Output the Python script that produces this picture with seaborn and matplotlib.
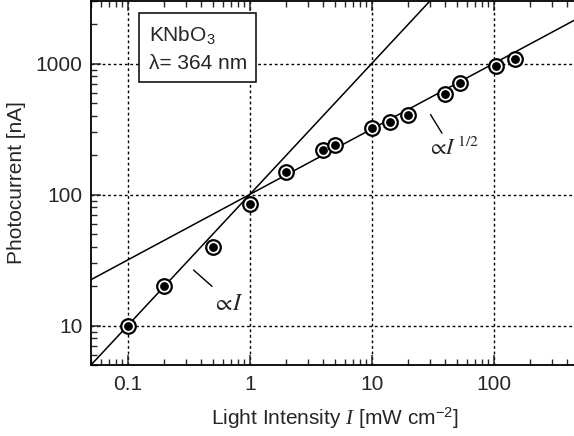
import numpy as np
import pandas as pd
import matplotlib
matplotlib.use("Agg")
import matplotlib.pyplot as plt
import seaborn as sns

sns.set_theme(style="ticks")
plt.rcParams['font.family'] = ['Liberation Sans', 'DejaVu Sans']
plt.rcParams['mathtext.fontset'] = 'custom'
plt.rcParams['mathtext.rm'] = 'Liberation Sans'
plt.rcParams['mathtext.it'] = 'Liberation Serif:italic'
plt.rcParams['mathtext.bf'] = 'Liberation Sans:bold'

# measured points
intensity = [0.1, 0.2, 0.5, 1.0, 2.0, 4.0, 5.0, 10, 14, 20, 40, 53, 105, 150]
current = [10, 20, 40, 85, 148, 220, 240, 320, 356, 408, 585, 715, 950, 1090]

# guide lines
lin_x = [0.05, 500]
lin_y = [5, 50000]
sqrt_x = [0.05, 500]
sqrt_y = [22.4, 2236]

df = pd.DataFrame({"I": intensity, "pc": current})

fig = plt.figure(figsize=(5.74, 4.36), dpi=100)
ax = fig.add_axes([91 / 574, 71 / 436, 488 / 574, 364 / 436])

# fit lines
sns.lineplot(x=lin_x, y=lin_y, color="black", linewidth=1.1, ax=ax)
sns.lineplot(x=sqrt_x, y=sqrt_y, color="black", linewidth=1.1, ax=ax)

# ring + dot markers
sns.scatterplot(data=df, x="I", y="pc", s=110, color="white",
                edgecolor="black", linewidth=1.6, zorder=3, ax=ax)
sns.scatterplot(data=df, x="I", y="pc", s=40, color="black",
                edgecolor="black", linewidth=0, zorder=4, ax=ax)

ax.set_xscale("log")
ax.set_yscale("log")
ax.set_xlim(0.05, 500)
ax.set_ylim(5, 3000)

ax.set_xticks([0.1, 1, 10, 100])
ax.set_xticklabels(["0.1", "1", "10", "100"])
ax.set_yticks([10, 100, 1000])
ax.set_yticklabels(["10", "100", "1000"])

ax.grid(True, which="major", color="black", linestyle=(0, (2, 2)), linewidth=1.0)
ax.tick_params(which="major", direction="in", length=7, width=1.1,
               top=True, labelsize=15, pad=7)
ax.tick_params(axis="y", which="major", pad=6)
ax.tick_params(which="minor", direction="in", length=4, width=1.0, top=True)
for s in ax.spines.values():
    s.set_linewidth(1.3)
    s.set_color("black")

ax.set_xlabel("Light Intensity $I$ [mW cm$^{-2}$]", fontsize=15, labelpad=9)
ax.set_ylabel("Photocurrent [nA]", fontsize=15, labelpad=7)

ax.text(0.118, 0.938, "KNbO$_3$\nλ= 364 nm", transform=ax.transAxes,
        fontsize=15, va="top", ha="left", linespacing=1.55,
        bbox=dict(boxstyle="square,pad=0.45", facecolor="white",
                  edgecolor="black", linewidth=1.1))

ax.annotate("", xy=(0.51, 19.3), xytext=(0.333, 27.4),
            arrowprops=dict(arrowstyle="-", color="black", lw=1.0))
ax.text(0.49, 14.5, r"$\propto\! I$", fontsize=17, ha="left", va="center",
        math_fontfamily="stix")

ax.annotate("", xy=(38.7, 282), xytext=(29.5, 425),
            arrowprops=dict(arrowstyle="-", color="black", lw=1.0))
ax.text(28.5, 224, r"$\propto\! I^{\,1/2}$", fontsize=16, ha="left", va="center",
        math_fontfamily="stix")

fig.savefig("out.png", dpi=100)
